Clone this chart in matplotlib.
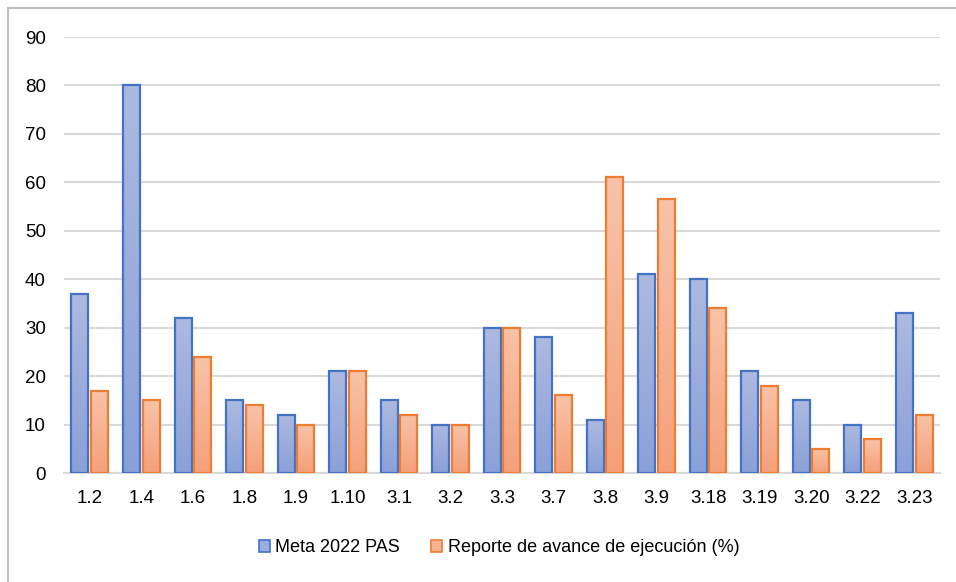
import matplotlib
matplotlib.use("Agg")
import matplotlib.pyplot as plt
import numpy as np
from matplotlib.colors import LinearSegmentedColormap
from matplotlib.patches import Rectangle
from matplotlib.lines import Line2D

categories = ["1.2", "1.4", "1.6", "1.8", "1.9", "1.10", "3.1", "3.2", "3.3",
              "3.7", "3.8", "3.9", "3.18", "3.19", "3.20", "3.22", "3.23"]
meta = [37, 80, 32, 15, 12, 21, 15, 10, 30, 28, 11, 41, 40, 21, 15, 10, 33]
reporte = [17, 15, 24, 14, 10, 21, 12, 10, 30, 16, 61, 56.6, 34, 18, 5, 7, 12]
yticks = [0, 10, 20, 30, 40, 50, 60, 70, 80, 90]
labels = ["Meta 2022 PAS", "Reporte de avance de ejecución (%)"]

fs = 13.5
plt.rcParams['font.family'] = ['Liberation Sans', 'DejaVu Sans']

fig = plt.figure(figsize=(9.56, 5.82), dpi=100)
ax = fig.add_axes([64/956, 1-473/582, (940-64)/956, (473-37)/582])

x = np.arange(len(categories))
w = 0.33
off = 0.19

blue_cmap = LinearSegmentedColormap.from_list("b", ["#8aa0d8", "#adbae0"])
orange_cmap = LinearSegmentedColormap.from_list("o", ["#f4a07b", "#f8c3a8"])

def grad_bars(xs, vals, cmap, edge):
    bars = ax.bar(xs, vals, width=w, facecolor="none", edgecolor=edge,
                  linewidth=1.6, zorder=3)
    grad = np.linspace(0, 1, 256).reshape(-1, 1)
    for b in bars:
        x0, y0 = b.get_x(), b.get_y()
        bw, bh = b.get_width(), b.get_height()
        im = ax.imshow(grad, cmap=cmap, aspect="auto", origin="lower",
                       extent=[x0, x0 + bw, y0, y0 + bh], zorder=2)
        im.set_clip_path(b)
    return bars

grad_bars(x - off, meta, blue_cmap, "#4472c4")
grad_bars(x + off, reporte, orange_cmap, "#ed7d31")

ax.set_xlim(-0.5, len(categories) - 0.5)
ax.set_ylim(0, 90)
ax.set_yticks(yticks)
ax.set_xticks(x)
ax.set_xticklabels(categories)
ax.yaxis.grid(True, color="#d9d9d9", linewidth=1.5, zorder=0)
ax.set_axisbelow(True)
for s in ["top", "right", "left"]:
    ax.spines[s].set_visible(False)
ax.spines["bottom"].set_color("#d9d9d9")
ax.spines["bottom"].set_linewidth(1.5)
ax.tick_params(axis="both", length=0, labelsize=fs, colors="#000000")
ax.tick_params(axis="y", pad=13)
ax.tick_params(axis="x", pad=12)

handles = [Rectangle((0, 0), 1, 1, facecolor="#9aace0", edgecolor="#4472c4", linewidth=1.2),
           Rectangle((0, 0), 1, 1, facecolor="#f6b393", edgecolor="#ed7d31", linewidth=1.2)]
fig.legend(handles, labels, loc="center", bbox_to_anchor=(0.522, 1-548/582),
           ncol=2, frameon=False, fontsize=13, handlelength=0.62, handleheight=0.62,
           handletextpad=0.3, columnspacing=1.7)

fig.add_artist(Line2D([8/956, 8/956], [0, 1-8/582], color="#bfbfbf", linewidth=1.5,
                      transform=fig.transFigure))
fig.add_artist(Line2D([8/956, 1], [1-8/582, 1-8/582], color="#bfbfbf", linewidth=1.5,
                      transform=fig.transFigure))

fig.savefig("out.png", dpi=100)
